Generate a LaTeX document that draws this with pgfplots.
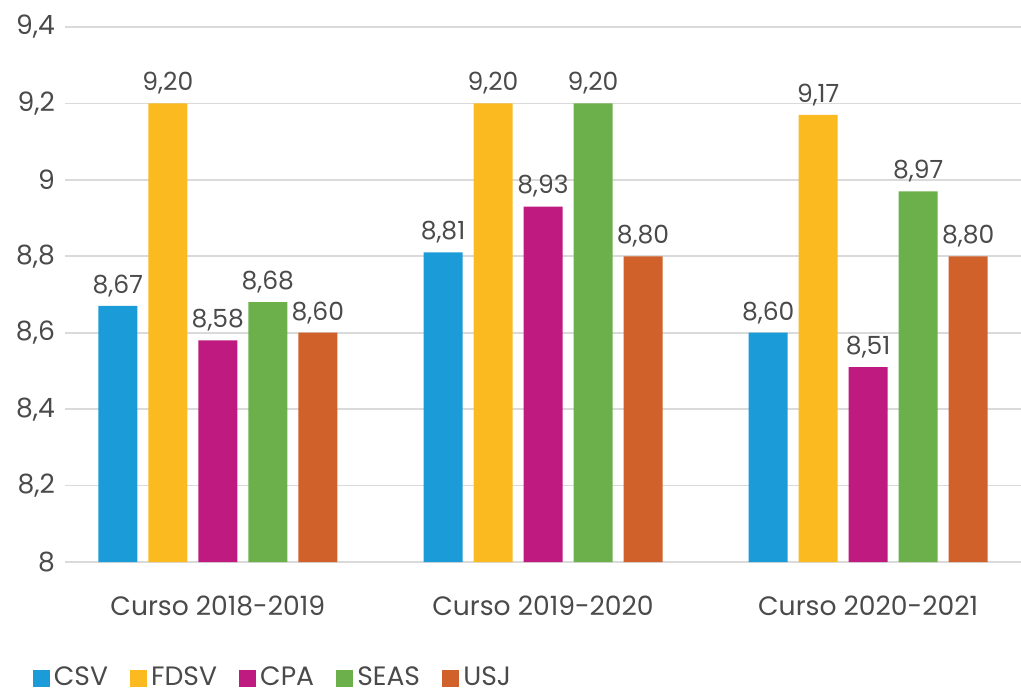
\documentclass[border=0pt]{standalone}
\usepackage{fontspec}
\setmainfont{Poppins}
\usepackage{pgfplots}
\pgfplotsset{compat=1.18}
\definecolor{cCSV}{HTML}{1B9BD7}
\definecolor{cFDSV}{HTML}{FBBA1F}
\definecolor{cCPA}{HTML}{BE1A80}
\definecolor{cSEAS}{HTML}{6BB04A}
\definecolor{cUSJ}{HTML}{D0612A}
\definecolor{txt}{HTML}{4A4A4A}
\definecolor{grd}{HTML}{DADADA}
\begin{document}
\begin{tikzpicture}
\path[use as bounding box] (-32.5pt,-65.5pt) rectangle (478pt,281pt);
\begin{axis}[
  at={(0,0)}, anchor=south west,
  scale only axis, width=478pt, height=267.5pt,
  xmin=-0.47, xmax=2.47, ymin=8, ymax=9.4,
  ybar=5.5pt, bar width=19.5pt,
  xtick={0,1,2},
  xticklabels={Curso 2018-2019,Curso 2019-2020,Curso 2020-2021},
  ytick={8,8.2,8.4,8.6,8.8,9,9.2,9.4},
  yticklabel style={/pgf/number format/use comma, /pgf/number format/assume math mode=true},
  ticklabel style={font=\fontsize{13.3}{15}\selectfont, text=txt},
  xticklabel style={yshift=-9pt},
  yticklabel style={xshift=-1.5pt},
  axis line style={draw=none}, tick style={draw=none},
  ymajorgrids, grid style={draw=grd, line width=0.9pt},
  nodes near coords={\pgfmathprintnumber[fixed,fixed zerofill,precision=2,use comma,assume math mode=true]{\pgfplotspointmeta}},
  every node near coord/.append style={font=\fontsize{12.5}{14}\selectfont, text=txt, yshift=1pt},
  legend columns=5,
  legend style={at={(-0.0405,-0.217)}, anchor=west, draw=none, fill=none,
    font=\fontsize{13.3}{15}\selectfont, text=txt,
    /tikz/every even column/.append style={column sep=9pt}},
  legend image code/.code={\fill[#1] (0pt,-4.3pt) rectangle (8.6pt,4.3pt);},
]
\addplot[fill=cCSV, draw=none] coordinates {(0,8.67) (1,8.81) (2,8.60)};
\addplot[fill=cFDSV, draw=none] coordinates {(0,9.20) (1,9.20) (2,9.17)};
\addplot[fill=cCPA, draw=none] coordinates {(0,8.58) (1,8.93) (2,8.51)};
\addplot[fill=cSEAS, draw=none] coordinates {(0,8.68) (1,9.20) (2,8.97)};
\addplot[fill=cUSJ, draw=none] coordinates {(0,8.60) (1,8.80) (2,8.80)};
\legend{CSV,FDSV,CPA,SEAS,USJ}
\end{axis}
\end{tikzpicture}
\end{document}
